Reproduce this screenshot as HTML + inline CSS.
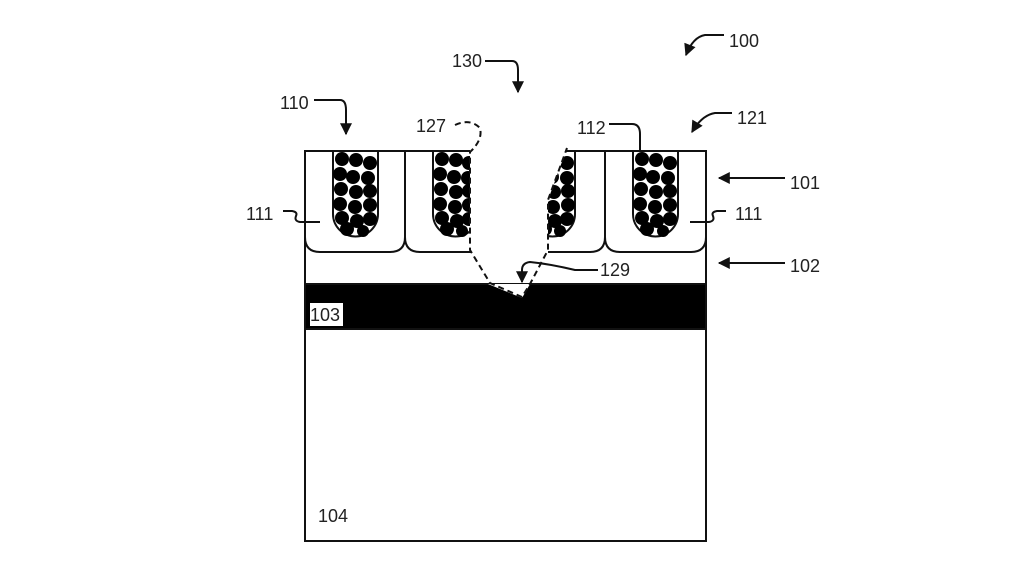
<!DOCTYPE html>
<html><head><style>html,body{margin:0;padding:0;background:#fff}svg{display:block}text{font-family:"Liberation Sans",Arial,sans-serif;font-size:18px;fill:#222}</style></head>
<body>
<svg width="1011" height="570" viewBox="0 0 1011 570" xmlns="http://www.w3.org/2000/svg">
<defs>
<marker id="ah" viewBox="0 0 10 10" refX="9" refY="5" markerWidth="13" markerHeight="12" markerUnits="userSpaceOnUse" orient="auto"><path d="M0,0 L10,5 L0,10 Z" fill="#111"/></marker>
</defs>
<style>.m{marker-end:url(#ah)}</style>
<g stroke="#111" stroke-width="2" fill="none">
<rect x="305" y="151" width="401" height="390" fill="#fff"/>
<rect x="305" y="284" width="401" height="45" fill="#000"/>
<path d="M305,151 V237 Q305,252 320,252 H390 Q405,252 405,237 V151"/>
<path d="M405,151 V237 Q405,252 420,252 H490 Q505,252 505,237 V151"/>
<path d="M505,151 V237 Q505,252 520,252 H590 Q605,252 605,237 V151"/>
<path d="M605,151 V237 Q605,252 620,252 H691 Q706,252 706,237 V151"/>
<path d="M333,151 V214 A22.5,22.5 0 0 0 378,214 V151"/>
<path d="M433,151 V214 A22.5,22.5 0 0 0 478,214 V151"/>
<path d="M530,151 V214 A22.5,22.5 0 0 0 575,214 V151"/>
<path d="M633,151 V214 A22.5,22.5 0 0 0 678,214 V151"/>
<path d="M305,151 H706"/>
</g>
<g fill="#000">
<circle cx="342" cy="159" r="7"/><circle cx="356" cy="160" r="7"/><circle cx="370" cy="163" r="7"/>
<circle cx="340" cy="174" r="7"/><circle cx="353" cy="177" r="7"/><circle cx="368" cy="178" r="7"/>
<circle cx="341" cy="189" r="7"/><circle cx="356" cy="192" r="7"/><circle cx="370" cy="191" r="7"/>
<circle cx="340" cy="204" r="7"/><circle cx="355" cy="207" r="7"/><circle cx="370" cy="205" r="7"/>
<circle cx="342" cy="218" r="7"/><circle cx="357" cy="221" r="7"/><circle cx="370" cy="219" r="7"/>
<circle cx="347" cy="229" r="7"/><circle cx="363" cy="231" r="6"/>
<circle cx="442" cy="159" r="7"/><circle cx="456" cy="160" r="7"/><circle cx="469" cy="163" r="7"/>
<circle cx="440" cy="174" r="7"/><circle cx="454" cy="177" r="7"/><circle cx="468" cy="178" r="7"/>
<circle cx="441" cy="189" r="7"/><circle cx="456" cy="192" r="7"/><circle cx="469" cy="191" r="7"/>
<circle cx="440" cy="204" r="7"/><circle cx="455" cy="207" r="7"/><circle cx="469" cy="205" r="7"/>
<circle cx="442" cy="218" r="7"/><circle cx="457" cy="221" r="7"/><circle cx="469" cy="219" r="7"/>
<circle cx="447" cy="229" r="7"/><circle cx="462" cy="231" r="6"/>
<circle cx="540" cy="159" r="7"/><circle cx="554" cy="160" r="7"/><circle cx="567" cy="163" r="7"/>
<circle cx="538" cy="174" r="7"/><circle cx="552" cy="177" r="7"/><circle cx="567" cy="178" r="7"/>
<circle cx="539" cy="189" r="7"/><circle cx="554" cy="192" r="7"/><circle cx="568" cy="191" r="7"/>
<circle cx="538" cy="204" r="7"/><circle cx="553" cy="207" r="7"/><circle cx="568" cy="205" r="7"/>
<circle cx="540" cy="218" r="7"/><circle cx="555" cy="221" r="7"/><circle cx="567" cy="219" r="7"/>
<circle cx="545" cy="229" r="7"/><circle cx="560" cy="231" r="6"/>
<circle cx="642" cy="159" r="7"/><circle cx="656" cy="160" r="7"/><circle cx="670" cy="163" r="7"/>
<circle cx="640" cy="174" r="7"/><circle cx="653" cy="177" r="7"/><circle cx="668" cy="178" r="7"/>
<circle cx="641" cy="189" r="7"/><circle cx="656" cy="192" r="7"/><circle cx="670" cy="191" r="7"/>
<circle cx="640" cy="204" r="7"/><circle cx="655" cy="207" r="7"/><circle cx="670" cy="205" r="7"/>
<circle cx="642" cy="218" r="7"/><circle cx="657" cy="221" r="7"/><circle cx="670" cy="219" r="7"/>
<circle cx="647" cy="229" r="7"/><circle cx="663" cy="231" r="6"/>
</g>
<polygon points="470,140 470,250 490,283 548,283 548,250 548,200 567,148 567,140" fill="#fff"/>
<polygon points="488,284 522,298 530,284" fill="#fff"/>
<g stroke="#111" stroke-width="2" fill="none" stroke-dasharray="6,4">
<path d="M455,125 Q470,118 480,128 Q483,140 470,152 V250 L490,283 L522,297 L530,284 L548,250 V200 L567,148"/>
</g>
<g stroke="#111" stroke-width="2" fill="none">
<path class="m" d="M598,270 H575 Q550,264 530,262 Q522,263 522,270 V282"/>
<path class="m" d="M314,100 H340 Q346,100 346,110 V134"/>
<path class="m" d="M485,61 H512 Q518,61 518,70 V92"/>
<path class="m" d="M724,35 H705 Q693,37 686,55"/>
<path class="m" d="M732,113 H715 Q702,115 692,132"/>
<path d="M609,124 H632 Q640,124 640,134 V152"/>
<path class="m" d="M785,178 H719"/>
<path class="m" d="M785,263 H719"/>
<path d="M283,211 H292 Q298,212 296,216 Q294,221 300,222 H320"/>
<path d="M726,211 H717 Q711,212 713,216 Q715,221 709,222 H690"/>
</g>
<text x="729" y="47">100</text>
<text x="452" y="67">130</text>
<text x="280" y="109">110</text>
<text x="416" y="132">127</text>
<text x="577" y="134">112</text>
<text x="737" y="124">121</text>
<text x="790" y="189">101</text>
<text x="790" y="272">102</text>
<text x="246" y="220">111</text>
<text x="735" y="220">111</text>
<text x="600" y="276">129</text>
<rect x="310" y="303" width="33" height="23" fill="#fff"/>
<text x="310" y="321">103</text>
<text x="318" y="522">104</text>
</svg>
</body></html>
